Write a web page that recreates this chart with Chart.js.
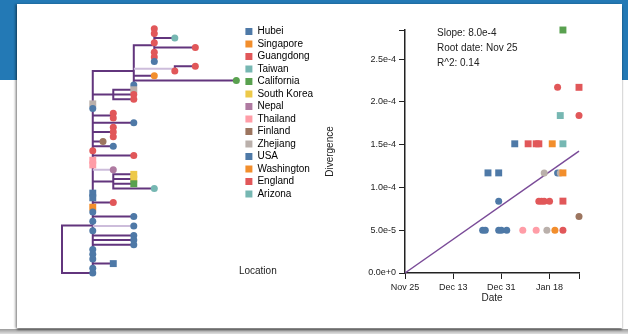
<!DOCTYPE html>
<html>
<head>
<meta charset="utf-8">
<title>Phylogeny and root-to-tip regression</title>
<script src="https://cdn.jsdelivr.net/npm/chart.js@4.4.1/dist/chart.umd.min.js"></script>
<style>
  html, body { margin: 0; padding: 0; }
  body { width: 628px; height: 334px; overflow: hidden; position: relative; background: #ffffff;
         font-family: "Liberation Sans", Arial, sans-serif; }
  .band  { position: absolute; left: 0; top: 0; width: 628px; height: 80px; background: #2379b5; }
  .panel { position: absolute; left: 17px; top: 4px; width: 605px; height: 324px; background: #ffffff;
           box-shadow: -2px 0 2px rgba(0,0,0,0.28), 0 2px 2px rgba(0,0,0,0.45); }
  .floor { position: absolute; left: 0; top: 329px; width: 628px; height: 5px; background: linear-gradient(#9a9a9a, #e0e0e0); }
  #tree { position: absolute; left: 30px; top: 10px; }
  #rtt  { position: absolute; left: 315px; top: 12px; }
</style>
</head>
<body>
<div class="band"></div>
<div class="floor"></div>
<div class="panel"></div>
<canvas id="tree" width="300" height="280"></canvas>
<canvas id="rtt" width="295" height="300"></canvas>
<script>
// ---------- sampling locations (legend order) ----------
const places = ["Hubei", "Singapore", "Guangdong", "Taiwan", "California", "South Korea", "Nepal",
                "Thailand", "Finland", "Zhejiang", "USA", "Washington", "England", "Arizona"];
const placeColors = ["#4e79a7", "#f28e2c", "#e15759", "#76b7b2", "#59a14f", "#edc949", "#af7aa1",
                     "#ff9da7", "#9c755f", "#bab0ab", "#4e79a7", "#f28e2c", "#e15759", "#76b7b2"];

// ---------- tree: internal nodes (parent -1 = root), divergence in substitutions ----------
const nodeParent = [-1, 0, 1, 2, 3, 3, 2, 2, 2, 2];
const nodeDiv    = [0, 1.5, 1.5, 3.5, 4.5, 5.5, 2.5, 2.5, 2.5, 2.5];

// ---------- tree: tips, top to bottom ----------
const tipParent = [4, 4, 4, 4, 4, 4, 4, 4, 5, 5, 3, 3, 3, 6, 6, 6, 2, 2, 7, 7,
                   2, 8, 8, 8, 2, 2, 2, 2, 2, 2, 2, 9, 9, 9, 9, 1, 1, 1, 1, 1,
                   1, 1, 1, 1, 1, 1, 1, 1, 1, 1, 1, 1, 0];
const tipDiv    = [4.5, 4.5, 5.5, 4.5, 6.5, 4.5, 4.5, 4.5, 6.5, 5.5, 4.5, 8.5, 3.5, 3.5, 3.5, 3.5, 1.5, 1.5, 2.5, 2.5,
                   3.5, 2.5, 2.5, 2.5, 2.0, 2.5, 1.5, 3.5, 1.5, 1.5, 2.5, 3.5, 3.5, 3.5, 4.5, 1.5, 1.5, 2.5, 1.5, 1.5,
                   3.5, 1.5, 3.5, 1.5, 3.5, 3.5, 3.5, 1.5, 1.5, 1.5, 2.5, 1.5, 1.5];
const tipPlace  = [2, 2, 3, 2, 2, 2, 2, 0, 2, 2, 1, 4, 0, 9, 2, 2, 9, 0, 2, 2,
                   0, 2, 2, 2, 8, 0, 2, 2, 7, 7, 6, 5, 5, 4, 3, 0, 0, 12, 11, 0,
                   0, 0, 0, 0, 0, 0, 0, 0, 0, 0, 0, 0, 0];
const tipShape  = ["c","c","c","c","c","c","c","c","c","c","c","c","c","s","c","c","s","c","c","c",
                   "c","c","c","c","c","c","c","c","s","s","c","s","s","s","c","s","s","c","s","c",
                   "c","c","c","c","c","c","c","c","c","c","s","c","c"];
// branches with weak support
const weakNodes = [5];
const weakTips  = [30, 42];

// ---------- root-to-tip regression: dated samples ----------
const sampleDate = ["2019-12-24","2019-12-25","2019-12-30","2019-12-31","2020-01-02","2020-01-08","2020-01-13",
                    "2020-01-17","2020-01-20","2020-01-23","2020-01-29","2019-12-30","2020-01-14","2020-01-15",
                    "2020-01-16","2020-01-18","2020-01-23","2019-12-26","2019-12-30","2020-01-16","2020-01-21",
                    "2020-01-22","2020-01-23","2020-01-05","2020-01-10","2020-01-13","2020-01-14","2020-01-19",
                    "2020-01-23","2020-01-22","2020-01-29","2020-01-21","2020-01-29","2020-01-23"];
const sampleDiv  = [5.0e-5, 5.0e-5, 5.0e-5, 5.0e-5, 5.0e-5, 5.0e-5, 5.0e-5,
                    5.0e-5, 5.0e-5, 5.0e-5, 6.6e-5, 8.4e-5, 8.4e-5, 8.4e-5,
                    8.4e-5, 8.4e-5, 8.4e-5, 1.17e-4, 1.17e-4, 1.17e-4, 1.17e-4,
                    1.17e-4, 1.17e-4, 1.51e-4, 1.51e-4, 1.51e-4, 1.51e-4, 1.51e-4,
                    1.51e-4, 1.84e-4, 1.84e-4, 2.17e-4, 2.17e-4, 2.84e-4];
const samplePlace = [0, 0, 0, 0, 0, 7, 7, 9, 11, 12, 8, 0, 2, 2, 2, 2, 12, 0, 0, 9, 10,
                     9, 11, 0, 2, 2, 2, 1, 3, 13, 2, 2, 12, 4];
const sampleShape = ["c","c","c","c","c","c","c","c","c","c","c","c","c","c","c","c","s","s","s","c","c",
                     "c","s","s","s","s","s","s","s","s","c","c","s","s"];

// regression summary
const rootDate = "2019-11-25";
const slopePerYear = 8.0e-4;
const rSquared = 0.14;
const dateStepDays = 18;
const divStep = 5e-5;

// ---------- helpers ----------
const DAY = 86400000;
const MONTHS = ["Jan","Feb","Mar","Apr","May","Jun","Jul","Aug","Sep","Oct","Nov","Dec"];
const t0 = Date.parse(rootDate + "T00:00:00Z");
const dayOf = s => (Date.parse(s + "T00:00:00Z") - t0) / DAY;
const fmtDay = d => { const dt = new Date(t0 + d * DAY); return MONTHS[dt.getUTCMonth()] + " " + dt.getUTCDate(); };
const styleOf = s => (s === "s" ? "rect" : "circle");
const sizeOf = s => (s === "s" ? 4.9 : 3.5);
const FONT = "'Liberation Sans', Arial, sans-serif";
const INK = "#222222";

// ---------- tree layout: tips on rows, nodes at the mean of their children ----------
const kids = nodeParent.map(() => []);
nodeParent.forEach((p, i) => { if (p >= 0) kids[p].push({ node: i }); });
tipParent.forEach((p, i) => kids[p].push({ tip: i }));
const nodeY = [], nodeSpan = [];
function placeNode(i) {
  if (nodeY[i] === undefined) {
    const ys = kids[i].map(k => (k.tip !== undefined ? k.tip : placeNode(k.node)));
    nodeY[i] = ys.reduce((a, b) => a + b, 0) / ys.length;
    nodeSpan[i] = [Math.min(...ys), Math.max(...ys)];
  }
  return nodeY[i];
}
placeNode(0);

const strongPath = [], weakPath = [];
const GAP = { x: null, y: null };
const hBranch = (list, x0, x1, y) => list.push({ x: x0, y }, { x: x1, y }, GAP);
nodeParent.forEach((p, i) => {
  if (p >= 0) hBranch(weakNodes.includes(i) ? weakPath : strongPath, nodeDiv[p], nodeDiv[i], nodeY[i]);
});
tipParent.forEach((p, i) => hBranch(weakTips.includes(i) ? weakPath : strongPath, nodeDiv[p], tipDiv[i], i));
nodeDiv.forEach((d, i) => strongPath.push({ x: d, y: nodeSpan[i][0] }, { x: d, y: nodeSpan[i][1] }, GAP));

// caption under the legend
const captionPlugin = {
  id: "caption",
  afterDraw(chart, args, opts) {
    const { ctx, legend, chartArea } = chart;
    ctx.save();
    ctx.font = "10px " + FONT;
    ctx.fillStyle = INK;
    ctx.textBaseline = "middle";
    ctx.fillText(opts.text, legend.left - 4, chartArea.bottom - 2);
    ctx.restore();
  }
};

new Chart(document.getElementById("tree"), {
  type: "scatter",
  data: {
    datasets: [
      {
        label: "tips",
        data: tipDiv.map((d, i) => ({ x: d, y: i })),
        pointStyle: tipShape.map(styleOf),
        pointRadius: tipShape.map(sizeOf),
        pointBackgroundColor: tipPlace.map(p => placeColors[p]),
        pointBorderWidth: 0,
        clip: false,
        order: 0
      },
      {
        label: "weak branches",
        data: weakPath, showLine: true, spanGaps: false, pointRadius: 0,
        borderColor: "#cdbddb", borderWidth: 2, clip: false, order: 1
      },
      {
        label: "branches",
        data: strongPath, showLine: true, spanGaps: false, pointRadius: 0,
        borderColor: "#62357d", borderWidth: 2, borderCapStyle: "square", clip: false, order: 2
      }
    ]
  },
  options: {
    responsive: false, animation: false, events: [],
    layout: { padding: { left: 32, top: 14, right: 7, bottom: 17 } },
    scales: {
      x: { type: "linear", display: false, min: 0, max: 8.82 },
      y: { type: "linear", display: false, min: -1, max: tipParent.length - 1, reverse: true }
    },
    plugins: {
      tooltip: { enabled: false },
      caption: { text: "Location" },
      legend: {
        position: "right", align: "start",
        labels: {
          boxWidth: 7, boxHeight: 7, padding: 2.5, color: INK,
          font: { size: 10, family: FONT },
          generateLabels: () => places.map((p, i) => ({
            text: p, fillStyle: placeColors[i], strokeStyle: placeColors[i], lineWidth: 0, hidden: false
          }))
        }
      }
    }
  },
  plugins: [captionPlugin]
});

// ---------- root-to-tip regression ----------
const sampleX = sampleDate.map(dayOf);
const xMax = Math.max(...sampleX);
const yMax = Math.max(...sampleDiv);
const trend = [0, xMax].map(d => ({ x: d, y: slopePerYear * d / 365.25 }));

const statsPlugin = {
  id: "stats",
  afterDatasetsDraw(chart, args, opts) {
    const { ctx, chartArea } = chart;
    ctx.save();
    ctx.font = "10px " + FONT;
    ctx.fillStyle = INK;
    ctx.textBaseline = "middle";
    opts.lines.forEach((t, i) => ctx.fillText(t, chartArea.left + 32, chartArea.top + 3 + 15 * i));
    ctx.restore();
  }
};

const axisTick = { drawOnChartArea: false, drawTicks: true, tickLength: 6, color: INK, lineWidth: 1 };
const addEndTick = axis => { axis.ticks.push({ value: axis.max }); };

new Chart(document.getElementById("rtt"), {
  type: "scatter",
  data: {
    datasets: [
      {
        label: "samples",
        data: sampleX.map((d, i) => ({ x: d, y: sampleDiv[i] })),
        pointStyle: sampleShape.map(styleOf),
        pointRadius: sampleShape.map(sizeOf),
        pointBackgroundColor: samplePlace.map(p => placeColors[p]),
        pointBorderWidth: 0,
        clip: false,
        order: 0
      },
      {
        label: "fit",
        data: trend, showLine: true, pointRadius: 0,
        borderColor: "#7a4b98", borderWidth: 1.5, clip: false, order: 1
      }
    ]
  },
  options: {
    responsive: false, animation: false, events: [],
    layout: { padding: { left: 5, top: 18, right: 31, bottom: 4 } },
    scales: {
      x: {
        type: "linear", min: 0, max: xMax,
        afterBuildTicks: addEndTick,
        afterFit: axis => { axis.height = 35; },
        ticks: {
          stepSize: dateStepDays, includeBounds: false, autoSkip: false, maxRotation: 0,
          color: INK, font: { size: 9, family: FONT }, padding: 3,
          callback: v => (v === xMax ? "" : fmtDay(v))
        },
        grid: axisTick,
        border: { color: INK, width: 1.5 },
        title: { display: true, text: "Date", color: INK, font: { size: 10, family: FONT }, padding: 4 }
      },
      y: {
        type: "linear", min: 0, max: yMax,
        afterBuildTicks: addEndTick,
        afterFit: axis => { axis.width = 85; },
        ticks: {
          stepSize: divStep, includeBounds: false, autoSkip: false,
          color: INK, font: { size: 9, family: FONT }, padding: 3,
          callback: v => (v === yMax ? "" : v.toExponential(1))
        },
        grid: axisTick,
        border: { color: INK, width: 1.5 },
        title: { display: true, text: "Divergence", color: INK, font: { size: 10, family: FONT }, padding: 4 }
      }
    },
    plugins: {
      legend: { display: false },
      tooltip: { enabled: false },
      stats: {
        lines: [
          "Slope: " + slopePerYear.toExponential(1),
          "Root date: " + fmtDay(0),
          "R^2: " + rSquared.toFixed(2)
        ]
      }
    }
  },
  plugins: [statsPlugin]
});
</script>
</body>
</html>
